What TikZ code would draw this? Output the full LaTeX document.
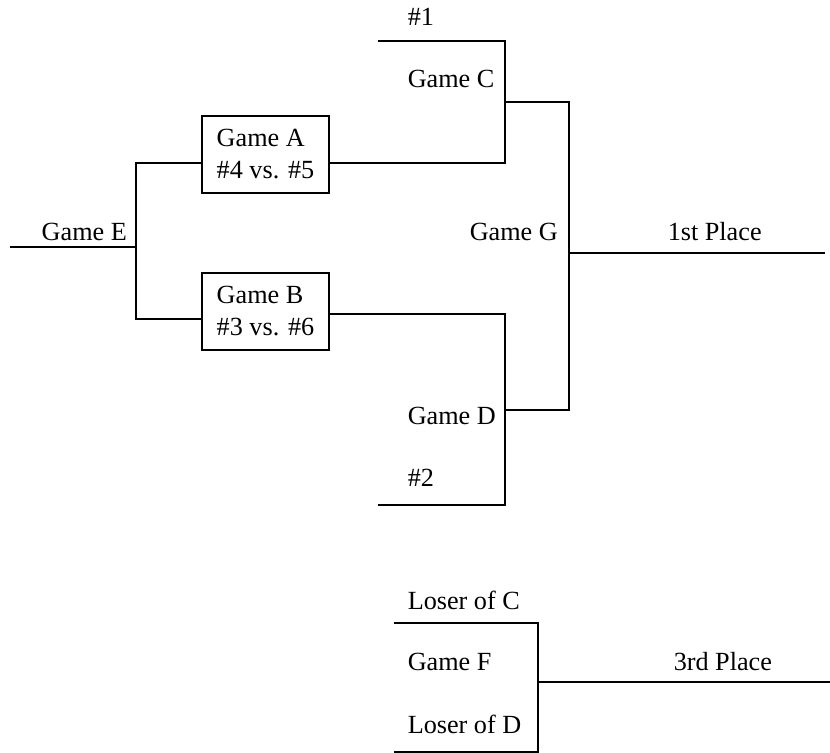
\documentclass[tikz,border=0pt]{standalone}
\usepackage{fontspec}
\setmainfont{Liberation Serif}
\usetikzlibrary{positioning}
\begin{document}
\begin{tikzpicture}[x=0.5pt, y=-0.5pt, line width=0.75pt,
	game/.style={draw, align=left, minimum width=63.5pt, inner sep=0pt, minimum height=38.5pt, font=\fontsize{13.1}{16}\selectfont},
	lbl/.style={inner sep=0pt, anchor=base west, font=\fontsize{13.1}{16}\selectfont}]
			\useasboundingbox (0,0) rectangle (830,753);
			\node[game] (gameA) at (265.5,154.5) {Game A\\\#4 vs. \#5};
			\node[game] (gameB) at (265.5,311.5) {Game B\\\#3 vs. \#6};
			\node[lbl] (lseed1) at (407,26) {\#1};
			\node[lbl] (lgameC) at (407,88) {Game C};
			\node[lbl] (lgameE) at (41,241) {Game E};
			\node[lbl] (lgameG) at (469,241) {Game G};
			\node[lbl] (lfirst) at (667,241) {1st Place};
			\node[lbl] (lgameD) at (407,425) {Game D};
			\node[lbl] (lseed2) at (407,487) {\#2};
			\node[lbl] (lloserC) at (407,609) {Loser of C};
			\node[lbl] (lgameF) at (407,670) {Game F};
			\node[lbl] (lthird) at (673,670) {3rd Place};
			\node[lbl] (lloserD) at (407,733) {Loser of D};
			\coordinate (e0) at (10,247);
			\coordinate (eMid) at (136,247);
			\coordinate (eTop) at (136,163);
			\coordinate (eBot) at (136,319);
			\coordinate (seed1) at (378,41);
			\coordinate (cTop) at (505,41);
			\coordinate (cBot) at (505,163);
			\coordinate (cMid) at (505,102);
			\coordinate (seed2) at (378,505);
			\coordinate (dTop) at (505,314);
			\coordinate (dBot) at (505,505);
			\coordinate (dMid) at (505,410);
			\coordinate (gTop) at (569,102);
			\coordinate (gBot) at (569,410);
			\coordinate (gMid) at (569,253);
			\coordinate (first) at (825,253);
			\coordinate (loserC) at (394,623);
			\coordinate (fTop) at (538,623);
			\coordinate (loserD) at (394,752);
			\coordinate (fBot) at (538,752);
			\coordinate (fMid) at (538,682);
			\coordinate (third) at (830,682);
			\draw (e0) -- (eMid);
			\draw (gameA.west |- eTop) -- (eTop) -- (eBot) -- (gameB.west |- eBot);
			\draw (gameA.east |- cBot) -- (cBot) -- (cTop) -- (seed1);
			\draw (gameB.east |- dTop) -- (dTop) -- (dBot) -- (seed2);
			\draw (cMid) -- (gTop) -- (gBot) -- (dMid);
			\draw (gMid) -- (first);
			\draw (loserC) -- (fTop) -- (fBot) -- (loserD);
			\draw (fMid) -- (third);
			\end{tikzpicture}
\end{document}
